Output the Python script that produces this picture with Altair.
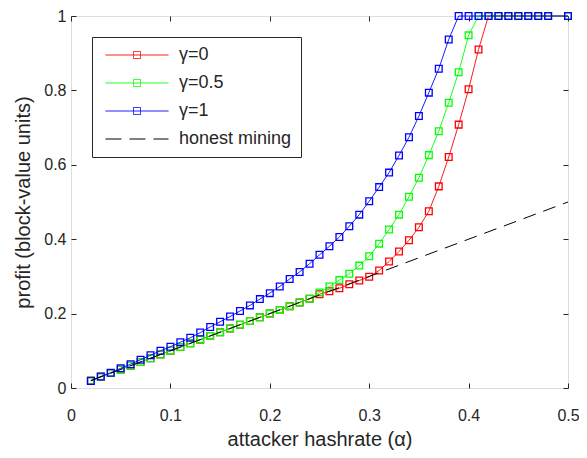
import altair as alt
import pandas as pd

# ---------------- data ----------------
alpha = [0.02, 0.03, 0.04, 0.05, 0.06, 0.07, 0.08, 0.09, 0.10, 0.11, 0.12, 0.13,
         0.14, 0.15, 0.16, 0.17, 0.18, 0.19, 0.20, 0.21, 0.22, 0.23, 0.24, 0.25,
         0.26, 0.27, 0.28, 0.29, 0.30, 0.31, 0.32, 0.33, 0.34, 0.35, 0.36, 0.37,
         0.38, 0.39, 0.40, 0.41, 0.42, 0.43, 0.44, 0.45, 0.46, 0.47, 0.48, 0.50]

profit_g0 = [0.02, 0.03, 0.04, 0.05, 0.06, 0.07, 0.08, 0.09, 0.10, 0.11, 0.12, 0.13,
             0.14, 0.15, 0.16, 0.17, 0.18, 0.19, 0.20, 0.21, 0.22, 0.23, 0.24, 0.252,
             0.260, 0.268, 0.279, 0.289, 0.299, 0.316, 0.340, 0.367, 0.397, 0.432, 0.475, 0.542,
             0.621, 0.708, 0.803, 0.910, 1.0, 1.0, 1.0, 1.0, 1.0, 1.0, 1.0, 1.0]

profit_g05 = [0.02, 0.03, 0.04, 0.05, 0.06, 0.07, 0.08, 0.09, 0.10, 0.11, 0.12, 0.13,
              0.14, 0.15, 0.16, 0.17, 0.18, 0.19, 0.20, 0.21, 0.22, 0.23, 0.24, 0.257,
              0.273, 0.290, 0.307, 0.329, 0.354, 0.388, 0.426, 0.466, 0.514, 0.565, 0.626, 0.690,
              0.767, 0.849, 0.948, 1.0, 1.0, 1.0, 1.0, 1.0, 1.0, 1.0, 1.0, 1.0]

profit_g1 = [0.019, 0.031, 0.041, 0.053, 0.064, 0.076, 0.088, 0.100, 0.111, 0.123, 0.135, 0.149,
             0.164, 0.178, 0.192, 0.207, 0.222, 0.239, 0.255, 0.273, 0.293, 0.312, 0.334, 0.358,
             0.381, 0.406, 0.435, 0.466, 0.502, 0.540, 0.579, 0.625, 0.674, 0.731, 0.794, 0.858,
             0.937, 1.0, 1.0, 1.0, 1.0, 1.0, 1.0, 1.0, 1.0, 1.0, 1.0, 1.0]

honest_alpha = [0.02, 0.50]
honest_profit = [0.02, 0.50]

series_names = ["γ=0", "γ=0.5", "γ=1", "honest mining"]
series_colors = ["#ff0000", "#00ff00", "#0000ff", "#000000"]

x_ticks = [0, 0.1, 0.2, 0.3, 0.4, 0.5]
y_ticks = [0, 0.2, 0.4, 0.6, 0.8, 1]

rows = []
for name, vals in zip(series_names[:3], [profit_g0, profit_g05, profit_g1]):
    for a, p in zip(alpha, vals):
        rows.append({"alpha": a, "profit": p, "series": name})
for a, p in zip(honest_alpha, honest_profit):
    rows.append({"alpha": a, "profit": p, "series": series_names[3]})
df = pd.DataFrame(rows)

# ---------------- styling ----------------
W, H = 497, 372
FONT = "Liberation Sans"
TXT = "#262626"

xscale = alt.Scale(domain=[0, 0.5], nice=False, zero=False)
yscale = alt.Scale(domain=[0, 1], nice=False, zero=False)
cscale = alt.Scale(domain=series_names, range=series_colors)

main_x_axis = alt.Axis(values=x_ticks, format=".1~f", grid=False, domain=False, ticks=False,
                       tickSize=0, labelFont=FONT, labelFontSize=16, labelColor=TXT,
                       labelPadding=32, labelBaseline="alphabetic", labelFlush=False,
                       title="attacker hashrate (α)", titleFont=FONT, titleFontSize=20,
                       titleFontWeight="normal", titleColor=TXT, titleY=57,
                       titleBaseline="alphabetic", orient="bottom")
main_y_axis = alt.Axis(values=y_ticks, format=".1~f", grid=False, domain=False, ticks=False,
                       tickSize=0, labelFont=FONT, labelFontSize=16, labelColor=TXT,
                       labelPadding=5, labelFlush=False,
                       title="profit (block-value units)", titleFont=FONT, titleFontSize=20,
                       titleFontWeight="normal", titleColor=TXT, titleX=-42, titleY=H / 2,
                       titleAngle=270, titleBaseline="alphabetic", titleAlign="center",
                       orient="left")


def tick_axis(orient, values):
    # ticks pointing into the plot area (MATLAB style)
    return alt.Axis(orient=orient, values=values, grid=False, domain=False,
                    labels=False, ticks=True, tickSize=alt.ExprRef(expr="-5"),
                    tickColor=TXT, tickWidth=1, title=None)


legend = alt.Legend(
    orient="none", legendX=21, legendY=21, title=None, direction="vertical",
    symbolType=alt.ExprRef(expr="datum.value == 'honest mining' ? 'M-31.5,0H31.5' : "
                                "'M-31.5,0H31.5M-3.5,-3.5H3.5V3.5H-3.5Z'"),
    symbolDash=alt.ExprRef(expr="datum.value == 'honest mining' ? [16,8] : [1,0]"),
    symbolSize=4, symbolStrokeWidth=1, symbolFillColor="transparent",
    symbolOffset=27, labelOffset=33, labelFont=FONT, labelFontSize=18, labelColor=TXT,
    labelLimit=0, padding=9, rowPadding=10, strokeColor=TXT, fillColor="white",
)

base = alt.Chart(df)


def layer(series, kind, xaxis=None, yaxis=None, leg=None):
    ch = base.transform_filter(alt.datum.series == series)
    if kind == "line":
        if series == "honest mining":
            ch = ch.mark_line(strokeWidth=1, strokeDash=[13, 8])
        else:
            ch = ch.mark_line(strokeWidth=0.9)
    else:
        ch = ch.mark_point(shape="square", filled=False, size=45, strokeWidth=1.3, opacity=1)
    return ch.encode(
        x=alt.X("alpha:Q", scale=xscale, axis=xaxis),
        y=alt.Y("profit:Q", scale=yscale, axis=yaxis),
        color=alt.Color("series:N", scale=cscale, legend=leg),
    )


layers = [
    layer("γ=0", "line", main_x_axis, main_y_axis, legend),
    layer("γ=0", "point", tick_axis("bottom", x_ticks), tick_axis("left", y_ticks)),
    layer("γ=0.5", "line", tick_axis("top", x_ticks), tick_axis("right", y_ticks)),
    layer("γ=0.5", "point"),
    layer("γ=1", "line"),
    layer("γ=1", "point"),
    layer("honest mining", "line"),
]

chart = alt.layer(*layers).resolve_axis(x="independent", y="independent").properties(
    width=W, height=H,
    autosize=alt.AutoSizeParams(type="none"),
    padding={"left": 63, "top": 8, "right": 11, "bottom": 62},
).configure_view(stroke=TXT, strokeWidth=1).configure(background="white")

chart.save("out.html", embed_options={"renderer": "svg", "actions": False})
